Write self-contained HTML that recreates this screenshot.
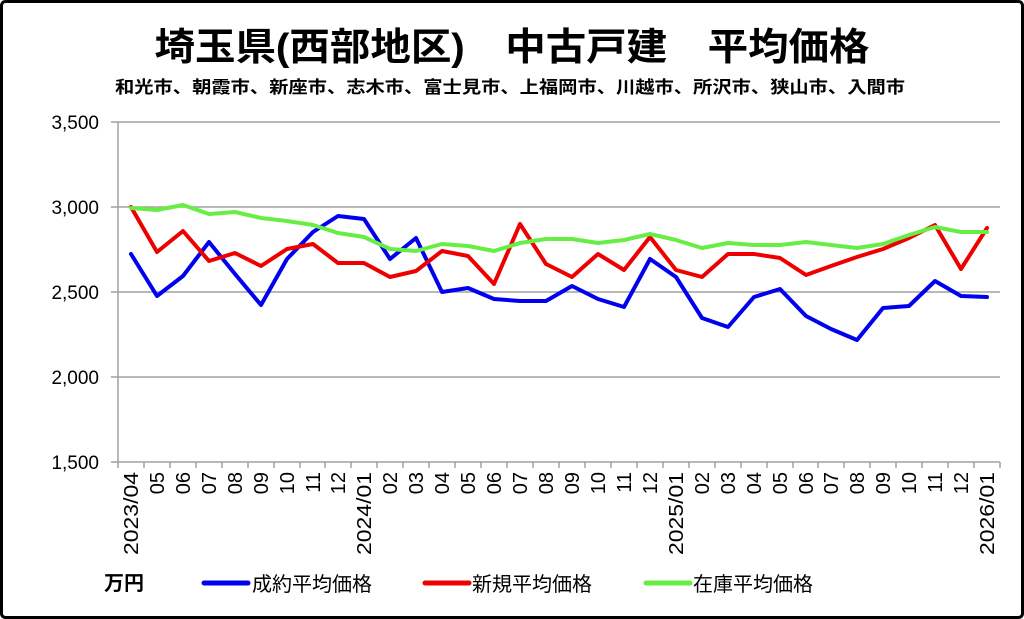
<!DOCTYPE html>
<html><head><meta charset="utf-8"><style>
html,body{margin:0;padding:0;background:#fff;}
svg{display:block;font-family:"Liberation Sans","Noto Sans CJK JP",sans-serif;}
</style></head><body>
<svg width="1024" height="619" viewBox="0 0 1024 619" xmlns="http://www.w3.org/2000/svg">
<rect x="1.5" y="1.5" width="1021" height="616" rx="4" fill="#fff" stroke="#000" stroke-width="3"/>
<text x="512" y="60" text-anchor="middle" font-size="38" font-weight="bold" textLength="715" lengthAdjust="spacingAndGlyphs">埼玉県(西部地区)　中古戸建　平均価格</text>
<text x="510" y="93" text-anchor="middle" font-size="17" font-weight="bold" textLength="790" lengthAdjust="spacingAndGlyphs">和光市、朝霞市、新座市、志木市、富士見市、上福岡市、川越市、所沢市、狭山市、入間市</text>
<g stroke="#a0a0a0" stroke-width="1.5">
<line x1="111" y1="122" x2="1000" y2="122"/>
<line x1="111" y1="207" x2="1000" y2="207"/>
<line x1="111" y1="292" x2="1000" y2="292"/>
<line x1="111" y1="377" x2="1000" y2="377"/>
<line x1="111" y1="462" x2="1000" y2="462"/>
<line x1="118" y1="122" x2="118" y2="462"/>
</g>
<g font-size="19" text-anchor="end" fill="#000">
<text x="99" y="129">3,500</text>
<text x="99" y="214">3,000</text>
<text x="99" y="299">2,500</text>
<text x="99" y="384">2,000</text>
<text x="99" y="469">1,500</text>
</g>
<g font-size="20" fill="#000" text-anchor="end">
<text transform="translate(138,472) rotate(-90)" textLength="83" lengthAdjust="spacingAndGlyphs">2023/04</text>
<text transform="translate(164,472) rotate(-90)">05</text>
<text transform="translate(190,472) rotate(-90)">06</text>
<text transform="translate(216,472) rotate(-90)">07</text>
<text transform="translate(242,472) rotate(-90)">08</text>
<text transform="translate(268,472) rotate(-90)">09</text>
<text transform="translate(294,472) rotate(-90)">10</text>
<text transform="translate(320,472) rotate(-90)">11</text>
<text transform="translate(345,472) rotate(-90)">12</text>
<text transform="translate(371,472) rotate(-90)" textLength="83" lengthAdjust="spacingAndGlyphs">2024/01</text>
<text transform="translate(397,472) rotate(-90)">02</text>
<text transform="translate(423,472) rotate(-90)">03</text>
<text transform="translate(449,472) rotate(-90)">04</text>
<text transform="translate(475,472) rotate(-90)">05</text>
<text transform="translate(501,472) rotate(-90)">06</text>
<text transform="translate(527,472) rotate(-90)">07</text>
<text transform="translate(553,472) rotate(-90)">08</text>
<text transform="translate(579,472) rotate(-90)">09</text>
<text transform="translate(605,472) rotate(-90)">10</text>
<text transform="translate(631,472) rotate(-90)">11</text>
<text transform="translate(657,472) rotate(-90)">12</text>
<text transform="translate(683,472) rotate(-90)" textLength="83" lengthAdjust="spacingAndGlyphs">2025/01</text>
<text transform="translate(709,472) rotate(-90)">02</text>
<text transform="translate(735,472) rotate(-90)">03</text>
<text transform="translate(761,472) rotate(-90)">04</text>
<text transform="translate(787,472) rotate(-90)">05</text>
<text transform="translate(813,472) rotate(-90)">06</text>
<text transform="translate(838,472) rotate(-90)">07</text>
<text transform="translate(864,472) rotate(-90)">08</text>
<text transform="translate(890,472) rotate(-90)">09</text>
<text transform="translate(916,472) rotate(-90)">10</text>
<text transform="translate(942,472) rotate(-90)">11</text>
<text transform="translate(968,472) rotate(-90)">12</text>
<text transform="translate(994,472) rotate(-90)" textLength="83" lengthAdjust="spacingAndGlyphs">2026/01</text>
</g>
<path stroke="#a0a0a0" stroke-width="1.5" d="M118 462v6M144 462v6M170 462v6M196 462v6M222 462v6M248 462v6M274 462v6M300 462v6M325 462v6M351 462v6M377 462v6M403 462v6M429 462v6M455 462v6M481 462v6M507 462v6M533 462v6M559 462v6M585 462v6M611 462v6M637 462v6M663 462v6M689 462v6M715 462v6M741 462v6M767 462v6M793 462v6M818 462v6M844 462v6M870 462v6M896 462v6M922 462v6M948 462v6M974 462v6M1000 462v6"/>
<g fill="none" stroke-width="4" stroke-linejoin="round" stroke-linecap="round">
<polyline stroke="#0000ee" points="131,254 157,296 183,276 209,242 235,274 261,305 287,259 313,232 338,216 364,219 390,259 416,238 442,292 468,288 494,299 520,301 546,301 572,286 598,299 624,307 650,259 676,277 702,318 728,327 754,297 780,289 806,316 831,329 857,340 883,308 909,306 935,281 961,296 987,297"/>
<polyline stroke="#ee0000" points="131,207 157,252 183,231 209,261 235,253 261,266 287,249 313,244 338,263 364,263 390,277 416,271 442,251 468,256 494,284 520,224 546,264 572,277 598,254 624,270 650,237 676,270 702,277 728,254 754,254 780,258 806,275 831,266 857,257 883,249 909,238 935,225 961,269 987,228"/>
<polyline stroke="#66ee44" points="131,208 157,210 183,205 209,214 235,212 261,218 287,221 313,225 338,233 364,237 390,249 416,251 442,244 468,246 494,251 520,243 546,239 572,239 598,243 624,240 650,234 676,240 702,248 728,243 754,245 780,245 806,242 831,245 857,248 883,244 909,235 935,227 961,232 987,232"/>
</g>
<text x="104" y="590" font-size="20" font-weight="bold">万円</text>
<line x1="204" y1="583" x2="248" y2="583" stroke="#0000ee" stroke-width="5" stroke-linecap="round"/>
<text x="252" y="591" font-size="20">成約平均価格</text>
<line x1="425" y1="583" x2="469" y2="583" stroke="#ee0000" stroke-width="5" stroke-linecap="round"/>
<text x="472" y="591" font-size="20">新規平均価格</text>
<line x1="646" y1="583" x2="690" y2="583" stroke="#66ee44" stroke-width="5" stroke-linecap="round"/>
<text x="693" y="591" font-size="20">在庫平均価格</text>
</svg>
</body></html>
